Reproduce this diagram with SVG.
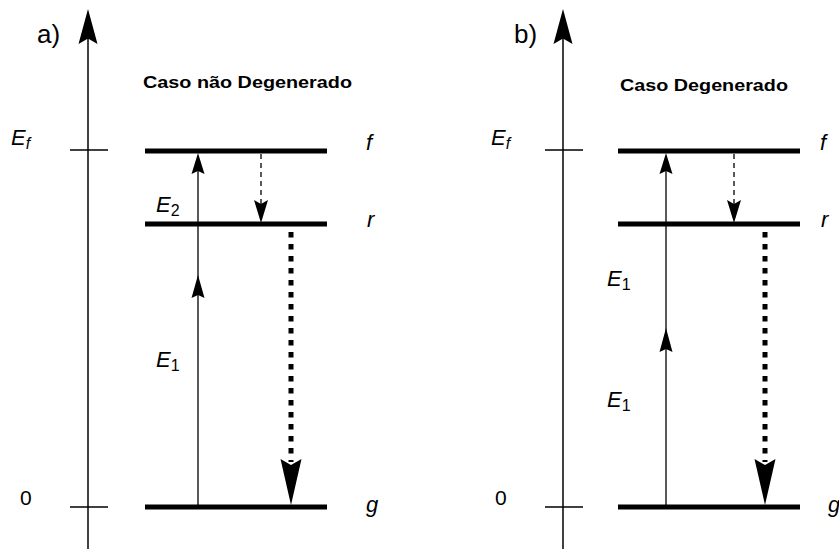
<svg xmlns="http://www.w3.org/2000/svg" width="839" height="549" viewBox="0 0 839 549">
<style>
.ax{stroke:#000;stroke-width:1.5;fill:none}
.tk{stroke:#000;stroke-width:1.3;fill:none}
.lvl{stroke:#000;stroke-width:5;fill:none}
.up{stroke:#000;stroke-width:1.3;fill:none}
.dash{stroke:#000;stroke-width:1.3;fill:none;stroke-dasharray:5 4}
.dot{stroke:#000;stroke-width:5;fill:none;stroke-dasharray:5.5 6.5}
.hd{fill:#000;stroke:none}
.t{font-family:"Liberation Sans",Arial,sans-serif;fill:#000}
.it{font-style:italic;font-size:22px}
.sub{font-size:16px;font-style:normal}
.subi{font-size:16px;font-style:italic}
.ttl{font-weight:bold;font-size:17px}
.pl{font-size:26px}
.num{font-size:21px}
</style>
<rect width="839" height="549" fill="#fff"/>
<g id="panel-a">
  <g id="a-axis">
    <line class="ax" x1="88" y1="30" x2="88" y2="549"/>
    <path class="hd" d="M88,9 L97.5,44 L88,38.5 L78.5,44 Z"/>
    <line class="tk" x1="70" y1="150" x2="108" y2="150"/>
    <line class="tk" x1="70" y1="507" x2="108" y2="507"/>
    <text class="t pl" x="37" y="43">a)</text>
    <text class="t it" x="11" y="145">E<tspan class="subi" dy="4">f</tspan></text>
    <text class="t num" x="20" y="505">0</text>
  </g>
  <text class="t ttl" x="143" y="88" textLength="209" lengthAdjust="spacingAndGlyphs">Caso não Degenerado</text>
  <g id="a-level-f"><line class="lvl" x1="145" y1="151" x2="327" y2="151"/><text class="t it" x="366" y="150">f</text></g>
  <g id="a-level-r"><line class="lvl" x1="145" y1="224" x2="327" y2="224"/><text class="t it" x="367" y="227">r</text></g>
  <g id="a-level-g"><line class="lvl" x1="145" y1="507" x2="327" y2="507"/><text class="t it" x="366" y="512">g</text></g>
  <g id="a-connectors">
    <line class="up" x1="198" y1="507" x2="198" y2="160"/>
    <path class="hd" d="M198,153 L204.5,174 L198,171 L191.5,174 Z"/>
    <path class="hd" d="M198,275 L204.5,298 L198,295 L191.5,298 Z"/>
    <line class="dash" x1="261" y1="154" x2="261" y2="204"/>
    <path class="hd" d="M261,223 L268,200 L261,204 L254,200 Z"/>
    <line class="dot" x1="291" y1="232" x2="291" y2="462"/>
    <path class="hd" d="M291,505 L301.5,459 L291,465 L280.5,459 Z"/>
  </g>
  <text class="t it" x="156" y="212">E<tspan class="sub" dy="4">2</tspan></text>
  <text class="t it" x="156" y="367">E<tspan class="sub" dy="4">1</tspan></text>
</g>
<g id="panel-b">
  <g id="b-axis">
    <line class="ax" x1="563" y1="30" x2="563" y2="549"/>
    <path class="hd" d="M563,9 L572.5,44 L563,38.5 L553.5,44 Z"/>
    <line class="tk" x1="545" y1="150" x2="583" y2="150"/>
    <line class="tk" x1="545" y1="507" x2="583" y2="507"/>
    <text class="t pl" x="514" y="43">b)</text>
    <text class="t it" x="491" y="145">E<tspan class="subi" dy="4">f</tspan></text>
    <text class="t num" x="495" y="505">0</text>
  </g>
  <text class="t ttl" x="620" y="91" textLength="168" lengthAdjust="spacingAndGlyphs">Caso Degenerado</text>
  <g id="b-level-f"><line class="lvl" x1="618" y1="151" x2="800" y2="151"/><text class="t it" x="820" y="150">f</text></g>
  <g id="b-level-r"><line class="lvl" x1="618" y1="224" x2="800" y2="224"/><text class="t it" x="821" y="227">r</text></g>
  <g id="b-level-g"><line class="lvl" x1="618" y1="507" x2="800" y2="507"/><text class="t it" x="828" y="512">g</text></g>
  <g id="b-connectors">
    <line class="up" x1="666" y1="507" x2="666" y2="160"/>
    <path class="hd" d="M666,153 L672.5,174 L666,171 L659.5,174 Z"/>
    <path class="hd" d="M666,328 L672.5,352 L666,349 L659.5,352 Z"/>
    <line class="dash" x1="734" y1="154" x2="734" y2="204"/>
    <path class="hd" d="M734,223 L741,200 L734,204 L727,200 Z"/>
    <line class="dot" x1="765" y1="232" x2="765" y2="462"/>
    <path class="hd" d="M765,505 L775.5,459 L765,465 L754.5,459 Z"/>
  </g>
  <text class="t it" x="607" y="286">E<tspan class="sub" dy="4">1</tspan></text>
  <text class="t it" x="607" y="407">E<tspan class="sub" dy="4">1</tspan></text>
</g>
</svg>
